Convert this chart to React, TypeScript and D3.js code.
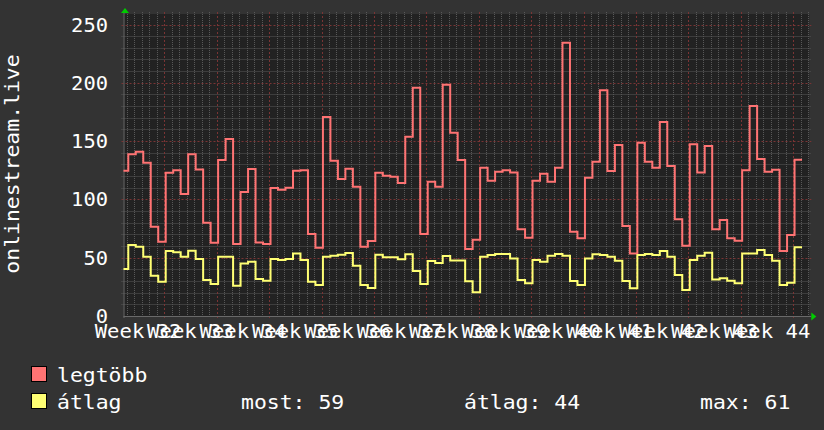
import React from "react";
import * as d3 from "d3";

// ---- data ----
const weekLabels = [
  "Week 32", "Week 33", "Week 34", "Week 35", "Week 36", "Week 37", "Week 38",
  "Week 39", "Week 40", "Week 41", "Week 42", "Week 43", "Week 44",
];
const yTicks = [0, 50, 100, 150, 200, 250];
const seriesNames = ["legtöbb", "átlag"];
const statLabels = ["most: 59", "átlag: 44", "max: 61"];
const axisTitle = "onlinestream.live";

// daily maximum
const maxValues = [
  124.5, 138.8, 140.8, 131.4, 76.6, 63.7, 122.8, 125.1, 104.6, 138.8,
  125.7, 80, 62.8, 133.7, 151.7, 61.7, 106.3, 126, 63.1, 61.7,
  109.7, 108.3, 110, 124.5, 125.1, 70.3, 58.6, 170.6, 133.1, 117.4,
  126.3, 110.8, 59.4, 64.3, 122.8, 120.3, 119.4, 114, 153.7, 195.7,
  70.3, 115.1, 110.8, 198.3, 157.1, 133.7, 57.5, 65.4, 127.1, 116,
  123.7, 125.1, 123.1, 74.3, 67.1, 116, 122, 115.1, 127.1, 234.3,
  72.3, 66.6, 118.5, 132.3, 193.7, 124.3, 146.6, 77.1, 53.7, 148.5,
  132.3, 127.1, 166.3, 128.6, 82.9, 60.3, 147.2, 123.1, 145.7, 74.3,
  82.3, 66.6, 64.6, 125.1, 180, 134.6, 123.7, 125.4, 55.7, 69.4, 134,
];
// daily average
const avgValues = [
  40.3, 60.9, 59.4, 50.8, 34.5, 29.4, 55.7, 54.6, 50.8, 56,
  48.9, 30.9, 27.4, 50.8, 50.8, 26, 45.1, 46.6, 31.7, 30.3,
  48.9, 48, 48.9, 53.7, 48, 29.4, 26.6, 50.8, 51.7, 52.6,
  54, 43, 26.6, 24, 52.6, 50.3, 50.3, 48.6, 52.9, 38.6,
  27.4, 47.1, 45.4, 51.4, 47.7, 47.7, 29.7, 20.3, 50.8, 52.3,
  53.1, 53.1, 49.4, 30.9, 28, 48, 46.6, 51.7, 53.1, 51.7,
  30, 26.6, 49.4, 52.9, 52.3, 50.8, 47.4, 30, 23.7, 52.3,
  53.1, 52.3, 55.7, 50.8, 35.1, 22.3, 48, 51.7, 54.3, 31.4,
  32.3, 30.3, 28, 53.7, 53.7, 56.6, 52.3, 47.4, 26.6, 28.6, 58.9,
];

// ---- layout ----
const W = 824;
const H = 430;
const PL = 123.5;
const PR = 809.3;
const PB = 316;
const PT = 14;
const dayStart = 1.55; // days since start of week 32 at plot left
const dayEnd = 93.16;
const firstSample = 1.19; // start of first sample interval (days)

const BG = "#333333";
const CANVAS = "#222222";
const FONT = "'DejaVu Sans Mono', monospace";
const RED = "#ff7373";
const YEL = "#ffff73";

const x = d3.scaleLinear().domain([dayStart, dayEnd]).range([PL, PR]);
const y = d3.scaleLinear().domain([0, 250]).range([PB, 24.5]);

function stepPath(values: number[]) {
  const pts: [number, number][] = values.map((v, i) => [firstSample + i, v]);
  pts.push([firstSample + values.length, values[values.length - 1]]);
  const line = d3
    .line<[number, number]>()
    .x((d) => x(d[0]))
    .y((d) => y(d[1]))
    .curve(d3.curveStepAfter);
  return line(pts) || "";
}

const Txt = (props: any) => {
  const { children, adv, ...rest } = props;
  const s = String(children);
  return (
    <text
      fontFamily={FONT}
      fontSize={19}
      fill="#ffffff"
      textLength={s.length * adv}
      lengthAdjust="spacingAndGlyphs"
      {...rest}
    >
      {s}
    </text>
  );
};

export default function App() {
  const minorDays: number[] = [];
  for (let d = Math.ceil(dayStart); d <= dayEnd; d++) if (d % 7 !== 0) minorDays.push(d);
  const majorDays: number[] = [];
  for (let d = 7; d <= dayEnd; d += 7) majorDays.push(d);
  const minorY: number[] = [];
  for (let v = 10; v <= 250; v += 10) if (v % 50 !== 0) minorY.push(v);
  const majorY = yTicks.filter((v) => v > 0);

  return (
    <svg
      width={W}
      height={H}
      style={{ position: "fixed", left: 0, top: 0, display: "block" }}
    >
      <rect x={0} y={0} width={W} height={H} fill={BG} />
      <rect x={PL} y={PT} width={PR - PL} height={PB - PT} fill={CANVAS} />
      <defs>
        <clipPath id="plotclip">
          <rect x={PL} y={PT - 2} width={PR - PL} height={PB - PT + 2} />
        </clipPath>
      </defs>

      {/* minor grid */}
      <g stroke="#585858" strokeWidth={1} strokeDasharray="1,1">
        {minorY.map((v) => (
          <line key={"my" + v} x1={PL - 2} x2={PR + 2} y1={Math.round(y(v)) + 0.5} y2={Math.round(y(v)) + 0.5} />
        ))}
        {minorDays.map((d) => (
          <line key={"mx" + d} x1={Math.round(x(d)) + 0.5} x2={Math.round(x(d)) + 0.5} y1={PT - 2} y2={PB + 2} />
        ))}
      </g>
      {/* major grid */}
      <g stroke="#7a3434" strokeWidth={1} strokeDasharray="2,2">
        {majorY.map((v) => (
          <line key={"My" + v} x1={PL - 2} x2={PR + 2} y1={Math.round(y(v)) + 0.5} y2={Math.round(y(v)) + 0.5} />
        ))}
        {majorDays.map((d) => (
          <line key={"Mx" + d} x1={Math.round(x(d)) + 0.5} x2={Math.round(x(d)) + 0.5} y1={PT - 2} y2={PB + 2} />
        ))}
      </g>

      {/* axes */}
      <line x1={PL} x2={PR + 2} y1={PB + 0.5} y2={PB + 0.5} stroke="#6a6a6a" strokeWidth={1} />
      <line x1={PL + 0.5} x2={PL + 0.5} y1={PB + 2} y2={PT - 1} stroke="#6a6a6a" strokeWidth={1} />
      <path d={`M${PR + 2},${PB - 3.5} L${PR + 7},${PB + 0.5} L${PR + 2},${PB + 4.5} Z`} fill="#00cc00" />
      <path d={`M${PL - 2.5},${PT - 1} L${PL + 1.5},${PT - 6} L${PL + 5.5},${PT - 1} Z`} fill="#00cc00" />

      {/* series */}
      <g clipPath="url(#plotclip)" fill="none" strokeWidth={2} strokeLinejoin="miter">
        <path d={stepPath(maxValues)} stroke={RED} />
        <path d={stepPath(avgValues)} stroke={YEL} />
      </g>

      {/* y labels */}
      {yTicks.map((v) => (
        <Txt key={"yl" + v} x={108} y={y(v) + 7} textAnchor="end" adv={12.3}>
          {String(v)}
        </Txt>
      ))}
      {/* x labels */}
      {weekLabels.map((t, i) => (
        <Txt key={"xl" + i} x={x(3.5 + 7 * i)} y={337.5} textAnchor="middle" adv={12.4}>
          {t}
        </Txt>
      ))}
      {/* title */}
      <Txt x={0} y={0} textAnchor="middle" adv={12.9} transform="translate(19,164) rotate(-90)">
        {axisTitle}
      </Txt>

      {/* legend */}
      <rect x={31.5} y={366.5} width={15} height={15} fill={RED} stroke="#000" strokeWidth={1} />
      <rect x={31.5} y={393.5} width={15} height={15} fill={YEL} stroke="#000" strokeWidth={1} />
      <Txt x={57} y={382} adv={12.9}>{seriesNames[0]}</Txt>
      <Txt x={57} y={409} adv={12.9}>{seriesNames[1]}</Txt>
      <Txt x={241} y={409} adv={12.9}>{statLabels[0]}</Txt>
      <Txt x={464} y={409} adv={12.9}>{statLabels[1]}</Txt>
      <Txt x={700} y={409} adv={12.9}>{statLabels[2]}</Txt>
    </svg>
  );
}
